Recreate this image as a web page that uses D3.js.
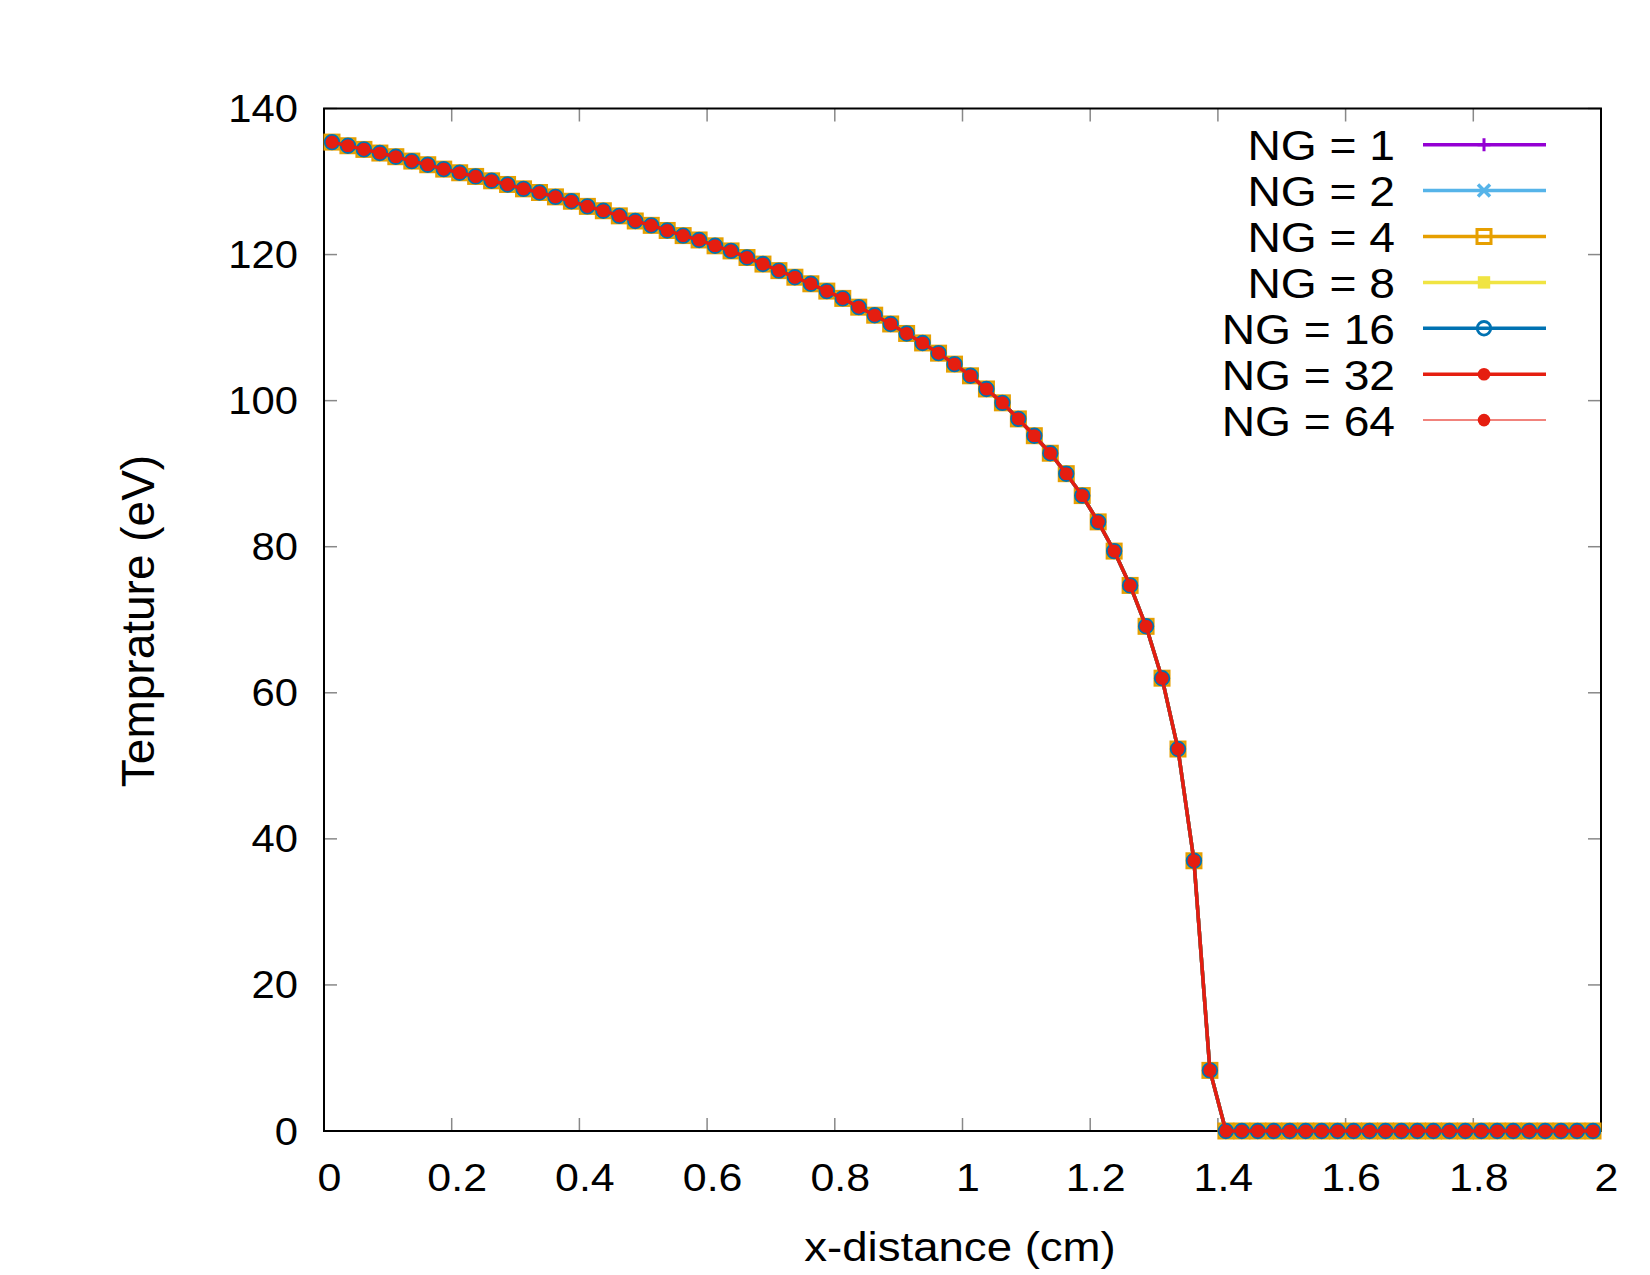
<!DOCTYPE html>
<html>
<head>
<meta charset="utf-8">
<script src="https://cdn.jsdelivr.net/npm/d3@7"></script>
<style>
  body { margin: 0; background: #fff; }
  text { font-family: "Liberation Sans", Arial, Helvetica, sans-serif; fill: #000; }
</style>
</head>
<body>
<div class="visHolder"></div>
<script>
// cell centres (cm)
const xDist = [
  0.0125, 0.0375, 0.0625, 0.0875, 0.1125, 0.1375, 0.1625, 0.1875, 0.2125, 0.2375,
  0.2625, 0.2875, 0.3125, 0.3375, 0.3625, 0.3875, 0.4125, 0.4375, 0.4625, 0.4875,
  0.5125, 0.5375, 0.5625, 0.5875, 0.6125, 0.6375, 0.6625, 0.6875, 0.7125, 0.7375,
  0.7625, 0.7875, 0.8125, 0.8375, 0.8625, 0.8875, 0.9125, 0.9375, 0.9625, 0.9875,
  1.0125, 1.0375, 1.0625, 1.0875, 1.1125, 1.1375, 1.1625, 1.1875, 1.2125, 1.2375,
  1.2625, 1.2875, 1.3125, 1.3375, 1.3625, 1.3875, 1.4125, 1.4375, 1.4625, 1.4875,
  1.5125, 1.5375, 1.5625, 1.5875, 1.6125, 1.6375, 1.6625, 1.6875, 1.7125, 1.7375,
  1.7625, 1.7875, 1.8125, 1.8375, 1.8625, 1.8875, 1.9125, 1.9375, 1.9625, 1.9875
];

// temperature (eV) - all group counts lie on top of each other
const temps = [
  135.4, 134.9, 134.4, 133.9, 133.4, 132.8, 132.3, 131.7, 131.2, 130.7,
  130.1, 129.6, 129.0, 128.5, 127.9, 127.3, 126.6, 126.0, 125.3, 124.6,
  124.0, 123.3, 122.6, 122.0, 121.2, 120.5, 119.6, 118.7, 117.8, 116.9,
  116.0, 115.0, 114.0, 112.8, 111.7, 110.5, 109.2, 107.9, 106.5, 105.0,
  103.4, 101.6, 99.7, 97.5, 95.2, 92.8, 90.0, 87.0, 83.4, 79.4,
  74.7, 69.1, 62.0, 52.3, 37.0, 8.3, 0, 0, 0, 0,
  0, 0, 0, 0, 0, 0, 0, 0, 0, 0,
  0, 0, 0, 0, 0, 0, 0, 0, 0, 0
];

const groups = [1, 2, 4, 8, 16, 32, 64];
const colors = ["#9400d3", "#56b4e9", "#e69f00", "#f0e442", "#0072b2", "#e51e10", "#e51e10"];
const markers = ["plus", "cross", "square", "fsquare", "circle", "fcircle", "fcircle"];

const xTicks = [0, 0.2, 0.4, 0.6, 0.8, 1, 1.2, 1.4, 1.6, 1.8, 2];
const yTicks = [0, 20, 40, 60, 80, 100, 120, 140];

let w = 1650;
let h = 1275;
let plotL = 324, plotR = 1601, plotT = 108.5, plotB = 1131;

const svg = d3.select(".visHolder")
              .append("svg")
              .attr("width", w)
              .attr("height", h);

const xScale = d3.scaleLinear().domain([0, 2]).range([plotL, plotR]);
const yScale = d3.scaleLinear().domain([0, 140]).range([plotB, plotT]);

// stretched text, the reference glyphs are wider than Liberation Sans
function label(g, x, y, str, size, anchor, sx) {
  return g.append("text")
          .attr("transform", "translate(" + x + "," + y + ") scale(" + sx + ",1)")
          .attr("text-anchor", anchor)
          .style("font-size", size + "px")
          .text(str);
}

// ticks, inward on all four sides
const tickLen = 13;
const ticks = svg.append("g").attr("stroke", "#888").attr("stroke-width", 1.5);
xTicks.forEach(t => {
  ticks.append("line").attr("x1", xScale(t)).attr("x2", xScale(t)).attr("y1", plotB).attr("y2", plotB - tickLen);
  ticks.append("line").attr("x1", xScale(t)).attr("x2", xScale(t)).attr("y1", plotT).attr("y2", plotT + tickLen);
  label(svg, xScale(t) + 5.5, 1191, t, 38, "middle", 1.13);
});
yTicks.forEach(t => {
  ticks.append("line").attr("x1", plotL).attr("x2", plotL + tickLen).attr("y1", yScale(t)).attr("y2", yScale(t));
  ticks.append("line").attr("x1", plotR).attr("x2", plotR - tickLen).attr("y1", yScale(t)).attr("y2", yScale(t));
  label(svg, 298, yScale(t) + 13.5, t, 38, "end", 1.1);
});

svg.append("rect")
   .attr("x", plotL).attr("y", plotT)
   .attr("width", plotR - plotL).attr("height", plotB - plotT)
   .attr("fill", "none")
   .attr("stroke", "#000")
   .attr("stroke-width", 2);

// axis titles
svg.append("text")
   .attr("transform", "translate(154,621) rotate(-90)")
   .attr("text-anchor", "middle")
   .style("font-size", "46px")
   .text("Temprature (eV)");
label(svg, 960, 1261, "x-distance (cm)", 40, "middle", 1.14);

function drawMarker(g, kind, color, cx, cy) {
  if (kind === "plus") {
    g.append("path").attr("d", `M${cx - 6.5},${cy}H${cx + 6.5}M${cx},${cy - 6.5}V${cy + 6.5}`)
     .attr("stroke", color).attr("stroke-width", 3).attr("fill", "none");
  } else if (kind === "cross") {
    g.append("path").attr("d", `M${cx - 6},${cy - 6}L${cx + 6},${cy + 6}M${cx - 6},${cy + 6}L${cx + 6},${cy - 6}`)
     .attr("stroke", color).attr("stroke-width", 3.5).attr("fill", "none");
  } else if (kind === "square") {
    g.append("rect").attr("x", cx - 7).attr("y", cy - 7).attr("width", 14).attr("height", 14)
     .attr("stroke", color).attr("stroke-width", 3).attr("fill", "none");
  } else if (kind === "fsquare") {
    g.append("rect").attr("x", cx - 6.2).attr("y", cy - 6.2).attr("width", 12.4).attr("height", 12.4)
     .attr("fill", color);
  } else if (kind === "circle") {
    g.append("circle").attr("cx", cx).attr("cy", cy).attr("r", 6.8)
     .attr("stroke", color).attr("stroke-width", 2.8).attr("fill", "none");
  } else {
    g.append("circle").attr("cx", cx).attr("cy", cy).attr("r", 6.3).attr("fill", color);
  }
}

const line = d3.line()
               .x((d, i) => xScale(xDist[i]))
               .y(d => yScale(d));

// series, each one: line then points (gnuplot linespoints order)
groups.forEach((ng, k) => {
  let g = svg.append("g");
  let thin = ng === 64;
  g.append("path")
   .datum(temps)
   .attr("d", line)
   .attr("fill", "none")
   .attr("stroke", colors[k])
   .attr("stroke-width", thin ? 2 : 3.5)
   .attr("stroke-opacity", thin ? 0.55 : 1)
   .attr("stroke-linejoin", "round");
  temps.forEach((d, i) => drawMarker(g, markers[k], colors[k], xScale(xDist[i]), yScale(d)));
});

// legend
const leg = svg.append("g");
groups.forEach((ng, k) => {
  let ly = 144.7 + k * 45.9;
  label(leg, 1395, ly + 15.5, "NG = " + ng, 42, "end", 1.1);
  leg.append("line")
     .attr("x1", 1423).attr("x2", 1546)
     .attr("y1", ly).attr("y2", ly)
     .attr("stroke", colors[k])
     .attr("stroke-width", ng === 64 ? 2 : 3.5)
     .attr("stroke-opacity", ng === 64 ? 0.55 : 1);
  drawMarker(leg, markers[k], colors[k], 1484, ly);
});
</script>
</body>
</html>
